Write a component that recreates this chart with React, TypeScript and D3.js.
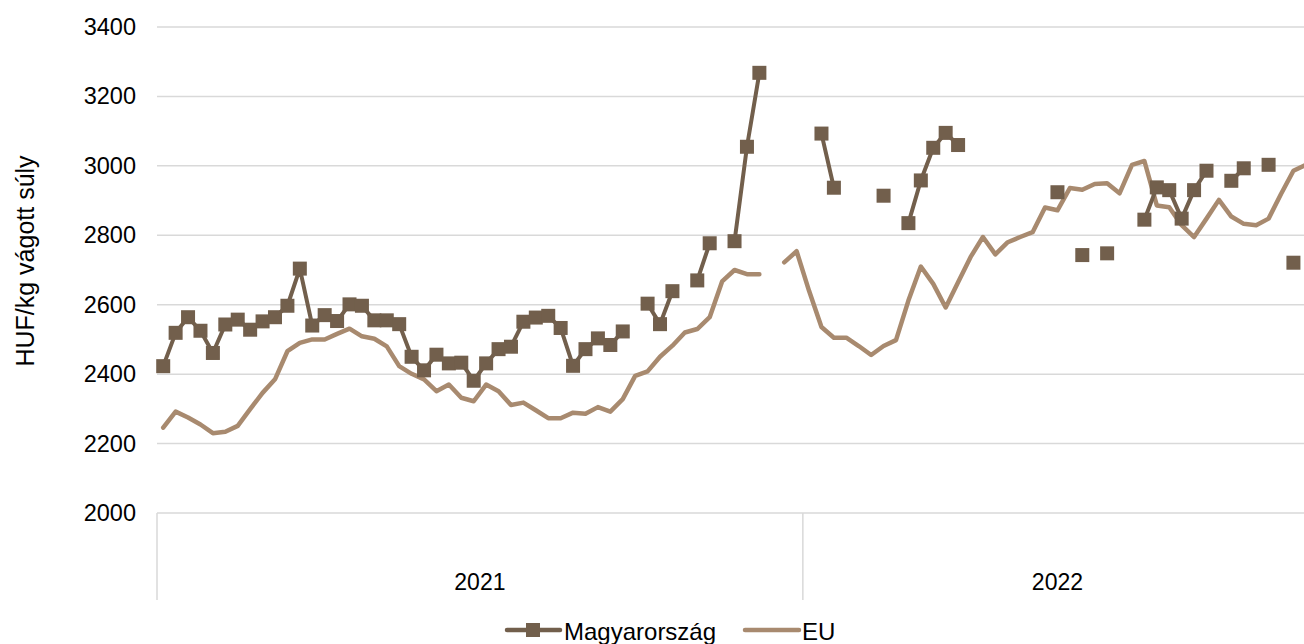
import React from "react";
import * as d3 from "d3";

const years = ["2021", "2022"];
const weeksPerYear = [52, 41];
const yTicks = [2000, 2200, 2400, 2600, 2800, 3000, 3200, 3400];
const seriesNames = ["Magyarország", "EU"];

const hu: (number | null)[] = [
  2423, 2519, 2564, 2525, 2461, 2543, 2557, 2528, 2552, 2564,
  2597, 2704, 2540, 2570, 2553, 2601, 2597, 2555, 2555, 2544,
  2450, 2411, 2456, 2431, 2433, 2381, 2431, 2472, 2479, 2551,
  2563, 2568, 2533, 2424, 2472, 2503, 2484, 2523, null, 2603,
  2544, 2639, null, 2670, 2777, null, 2783, 3055, 3268, null,
  null, null, null, 3093, 2937, null, null, null, 2914, null,
  2835, 2958, 3052, 3095, 3060, null, null, null, null, null,
  null, null, 2924, null, 2743, null, 2748, null, null, 2845,
  2938, 2930, 2848, 2930, 2986, null, 2957, 2993, null, 3003,
  null, 2721, null,
];

const eu: (number | null)[] = [
  2246, 2292, 2275, 2255, 2230, 2234, 2251, 2299, 2346, 2385,
  2466, 2490, 2500, 2500, 2516, 2531, 2509, 2502, 2480, 2423,
  2401, 2385, 2351, 2370, 2332, 2322, 2370, 2351, 2311, 2318,
  2296, 2273, 2273, 2289, 2286, 2305, 2292, 2328, 2395, 2408,
  2450, 2482, 2520, 2530, 2564, 2667, 2700, 2688, 2688, null,
  2722, 2754, 2640, 2536, 2505, 2505, 2481, 2455, 2481, 2498,
  2612, 2710, 2660, 2592, 2665, 2737, 2795, 2745, 2780, 2795,
  2809, 2880, 2872, 2936, 2931, 2948, 2950, 2921, 3003, 3014,
  2886, 2881, 2829, 2795, 2848, 2902, 2854, 2833, 2829, 2848,
  2919, 2986, 3003,
];

const HU_COLOR = "#725F4C";
const EU_COLOR = "#A88A6F";
const GRID = "#D9D9D9";
const FONT = "'Liberation Sans', Arial, sans-serif";

export default function App() {
  const W = 1304;
  const H = 644;
  const left = 157;
  const top = 27;
  const bottom = 513;

  const categories: string[] = [];
  years.forEach((y, yi) => {
    for (let w = 1; w <= weeksPerYear[yi]; w++) categories.push(`${y}-${w}`);
  });
  const bw = 12.42;
  const right = left + bw * categories.length;

  const x = d3.scaleBand<string>().domain(categories).range([left, right]).padding(0);
  const cx = (i: number) => (x(categories[i]) as number) + x.bandwidth() / 2;
  const y = d3.scaleLinear().domain([2000, 3400]).range([bottom, top]);

  const line = d3
    .line<number | null>()
    .defined((d) => d !== null)
    .x((_, i) => cx(i))
    .y((d) => y(d as number));

  const bounds: number[] = [left];
  let acc = 0;
  weeksPerYear.forEach((n) => {
    acc += n;
    bounds.push(left + bw * acc);
  });

  const ms = 14;

  return (
    <svg
      width={W}
      height={H}
      style={{ position: "absolute", left: 0, top: 0, background: "#fff" }}
      fontFamily={FONT}
    >
      {yTicks.map((t) => (
        <g key={t}>
          <line x1={left} x2={W} y1={y(t)} y2={y(t)} stroke={GRID} strokeWidth={1.5} />
          <text x={136} y={y(t)} textAnchor="end" dominantBaseline="central" fontSize={23.5} fill="#000">
            {t}
          </text>
        </g>
      ))}
      {bounds.slice(0, -1).map((b, i) => (
        <line key={i} x1={b} x2={b} y1={bottom} y2={600} stroke={GRID} strokeWidth={1.5} />
      ))}
      {years.map((yr, i) => (
        <text
          key={yr}
          x={(bounds[i] + bounds[i + 1]) / 2}
          y={582}
          textAnchor="middle"
          dominantBaseline="central"
          fontSize={23}
          fill="#000"
        >
          {yr}
        </text>
      ))}
      <text
        transform={`translate(25,${261}) rotate(-90)`}
        textAnchor="middle"
        dominantBaseline="central"
        fontSize={25}
        fill="#000"
      >
        HUF/kg vágott súly
      </text>

      <path d={line(eu) || ""} fill="none" stroke={EU_COLOR} strokeWidth={4.5} strokeLinejoin="round" strokeLinecap="round" />
      <path d={line(hu) || ""} fill="none" stroke={HU_COLOR} strokeWidth={4} strokeLinejoin="round" />
      {hu.map((v, i) =>
        v === null ? null : (
          <rect key={i} x={cx(i) - ms / 2} y={y(v) - ms / 2} width={ms} height={ms} fill={HU_COLOR} />
        )
      )}

      <g>
        <line x1={507} x2={560} y1={630} y2={630} stroke={HU_COLOR} strokeWidth={4.5} strokeLinecap="round" />
        <rect x={533 - ms / 2} y={630 - ms / 2} width={ms} height={ms} fill={HU_COLOR} />
        <text x={564} y={631} dominantBaseline="central" fontSize={24} fill="#000">
          {seriesNames[0]}
        </text>
        <line x1={745} x2={799} y1={630} y2={630} stroke={EU_COLOR} strokeWidth={4.5} strokeLinecap="round" />
        <text x={802} y={631} dominantBaseline="central" fontSize={24} fill="#000">
          {seriesNames[1]}
        </text>
      </g>
    </svg>
  );
}
